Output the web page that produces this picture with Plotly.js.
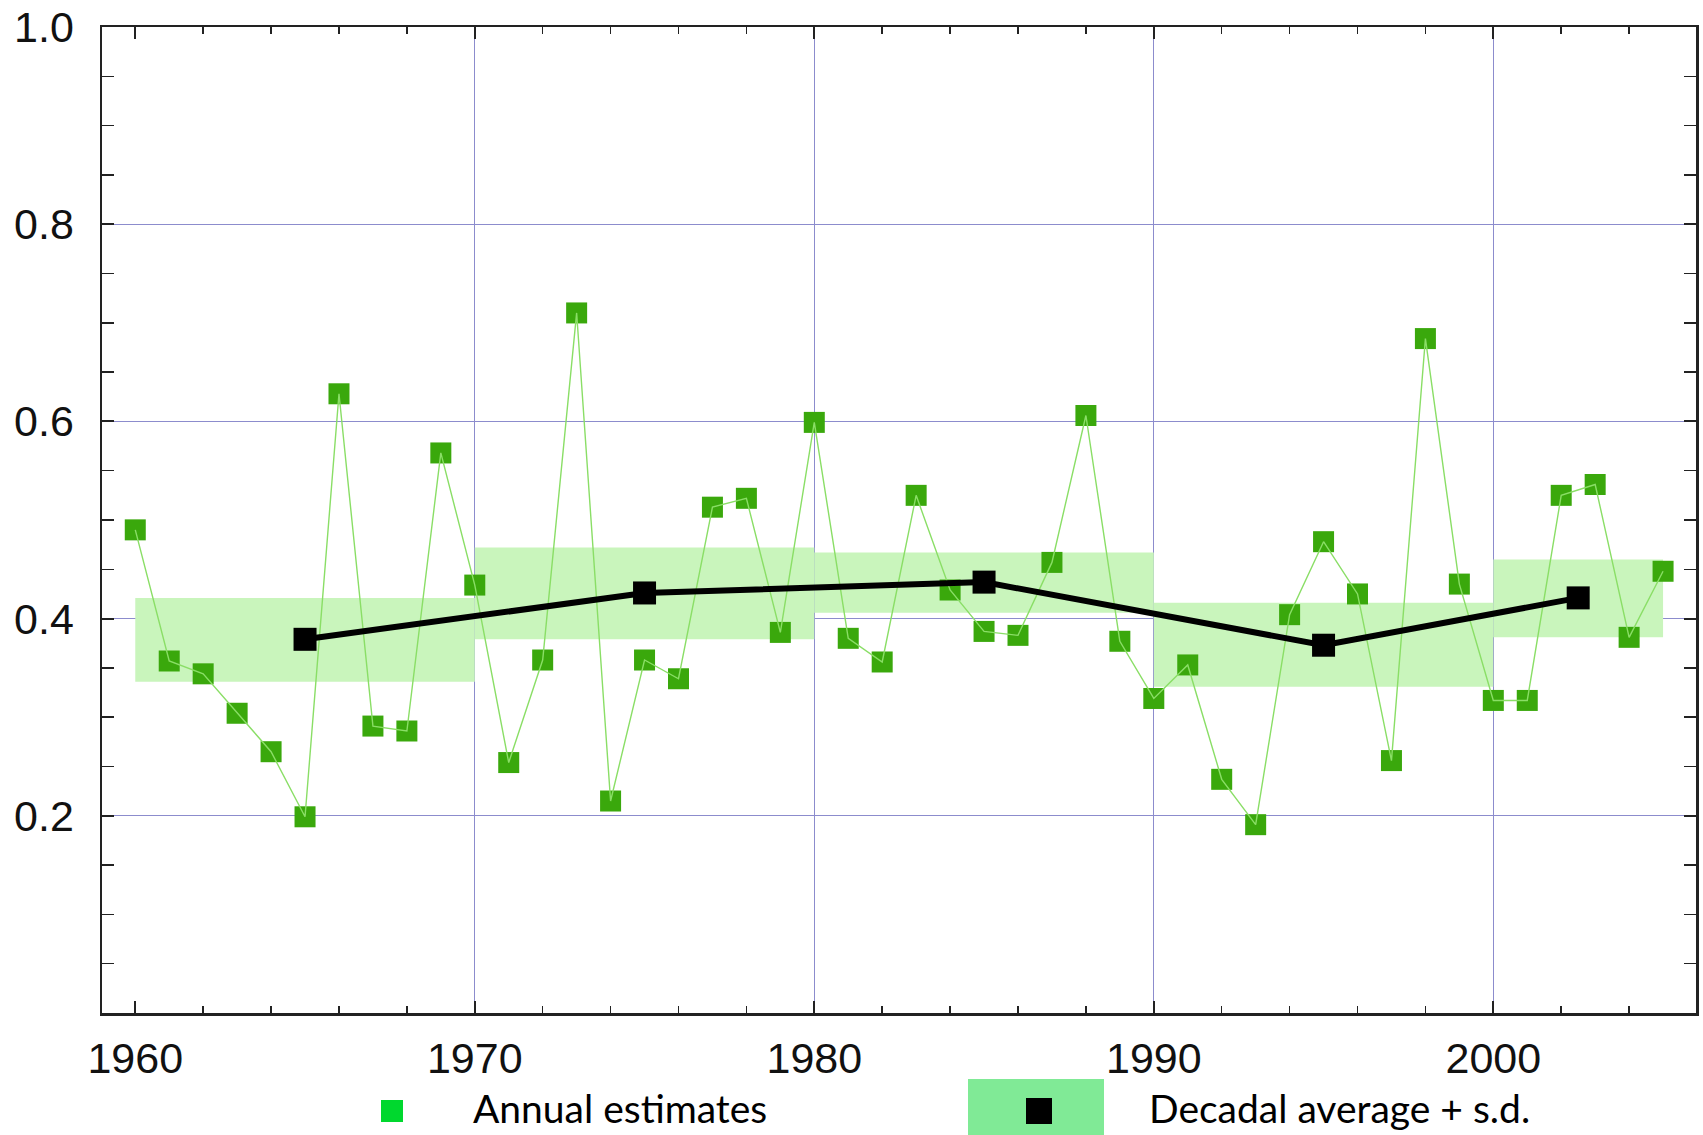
<!DOCTYPE html>
<html>
<head>
<meta charset="utf-8">
<script src="https://cdn.plot.ly/plotly-3.0.1.min.js"></script>
<style>
  html, body { margin: 0; padding: 0; background: #fff; }
  #chart { width: 1703px; height: 1135px; }
</style>
</head>
<body>
<div id="chart"></div>
<script>
// ---- data ----
const years = [1960,1961,1962,1963,1964,1965,1966,1967,1968,1969,
               1970,1971,1972,1973,1974,1975,1976,1977,1978,1979,
               1980,1981,1982,1983,1984,1985,1986,1987,1988,1989,
               1990,1991,1992,1993,1994,1995,1996,1997,1998,1999,
               2000,2001,2002,2003,2004,2005];
const annual = [0.490,0.357,0.344,0.304,0.265,0.199,0.628,0.291,0.286,0.568,
                0.434,0.254,0.358,0.710,0.215,0.358,0.339,0.513,0.522,0.386,
                0.599,0.380,0.356,0.525,0.429,0.387,0.383,0.457,0.606,0.377,
                0.319,0.353,0.237,0.191,0.404,0.478,0.425,0.256,0.684,0.435,
                0.317,0.317,0.525,0.536,0.381,0.448];
const decadeStart = [1960,1970,1980,1990,2000];
const decadeEnd   = [1970,1980,1990,2000,2005];
const decadeMean  = [0.379,0.426,0.437,0.373,0.421];
const decadeLow   = [0.336,0.379,0.406,0.331,0.381];
const decadeHigh  = [0.421,0.472,0.467,0.416,0.460];
const xTickVals = [1960,1970,1980,1990,2000];
const xTickText = ['1960','1970','1980','1990','2000'];
const yTickVals = [0.2,0.4,0.6,0.8,1.0];
const yTickText = ['0.2','0.4','0.6','0.8','1.0'];
const gridYears = [1970,1980,1990,2000];
const legendLabels = ['Annual estimates','Decadal average + s.d.'];

// ---- derived for the library ----
const decadeMid = decadeStart.map((s,i)=> (s+decadeEnd[i])/2);
const decadeWidth = decadeStart.map((s,i)=> decadeEnd[i]-s);
const decadeSpan = decadeLow.map((l,i)=> decadeHigh[i]-l);

const W = 1703, H = 1135, ML = 102, MR = 7, MT = 27, MB = 122;
const px = x => (x - ML) / (W - ML - MR);
const py = y => (H - MB - y) / (H - MT - MB);
const XR = [1959.02, 2005.97];

const traces = [
  { type:'bar', x: decadeMid, y: decadeSpan, base: decadeLow, width: decadeWidth,
    marker:{color:'#c9f5bc', line:{width:0}}, hoverinfo:'skip' },
  { type:'scatter', mode:'markers', x: years, y: annual,
    marker:{symbol:'square', size:21, color:'#3aa80c', line:{width:0}} },
  { type:'scatter', mode:'lines', x: years, y: annual,
    line:{color:'#8ade66', width:1.4} },
  { type:'scatter', mode:'lines+markers', x: decadeMid, y: decadeMean, xaxis:'x2',
    line:{color:'#000', width:6}, marker:{symbol:'square', size:23, color:'#000'} }
];

const axisCommon = {
  showline:true, linecolor:'#222', linewidth:2.5, mirror:'allticks',
  ticks:'inside', tickcolor:'#222', tickwidth:2, ticklen:12,
  zeroline:false, tickfont:{family:'Liberation Sans, Arial, sans-serif', size:43, color:'#111'}
};

const layout = {
  width: W, height: H,
  margin:{l:ML, r:MR, t:MT, b:MB, pad:0},
  paper_bgcolor:'#fff', plot_bgcolor:'#fff',
  showlegend:false,
  xaxis: Object.assign({}, axisCommon, {
    range: XR, tickmode:'array', tickvals:xTickVals, ticktext:xTickText,
    showgrid:false, ticklabelstandoff: 6,
    minor:{tickmode:'linear', tick0:1958, dtick:2, ticks:'inside', ticklen:7, tickwidth:1.5, tickcolor:'#222', showgrid:false}
  }),
  xaxis2: {
    overlaying:'x', anchor:'y', range: XR, tickmode:'array', tickvals:gridYears,
    showgrid:true, gridcolor:'rgb(140,140,205)', gridwidth:1.2,
    showticklabels:false, ticks:'', showline:false, zeroline:false
  },
  yaxis: Object.assign({}, axisCommon, {
    range:[0,1], tickmode:'array', tickvals:yTickVals, ticktext:yTickText,
    showgrid:true, gridcolor:'rgb(140,140,205)', gridwidth:1.2, ticklabelstandoff: 17,
    minor:{tickmode:'linear', tick0:0, dtick:0.05, ticks:'inside', ticklen:7, tickwidth:1.5, tickcolor:'#222', showgrid:false}
  }),
  shapes: [
    {type:'rect', xref:'paper', yref:'paper', x0:px(381), x1:px(403), y0:py(1122), y1:py(1100),
     fillcolor:'#00d82e', line:{width:0}},
    {type:'rect', xref:'paper', yref:'paper', x0:px(968), x1:px(1104), y0:py(1136), y1:py(1079),
     fillcolor:'#80ea96', line:{width:0}},
    {type:'rect', xref:'paper', yref:'paper', x0:px(1026), x1:px(1052), y0:py(1124), y1:py(1098),
     fillcolor:'#000', line:{width:0}}
  ],
  annotations: [
    {text:legendLabels[0], xref:'paper', yref:'paper', x:px(471), y:py(1108), xanchor:'left', yanchor:'middle',
     showarrow:false, font:{family:'Lato, sans-serif', size:39, color:'#000'}},
    {text:legendLabels[1], xref:'paper', yref:'paper', x:px(1147), y:py(1108), xanchor:'left', yanchor:'middle',
     showarrow:false, font:{family:'Lato, sans-serif', size:39, color:'#000'}}
  ]
};

Plotly.newPlot('chart', traces, layout, {displayModeBar:false, staticPlot:true});
</script>
</body>
</html>
